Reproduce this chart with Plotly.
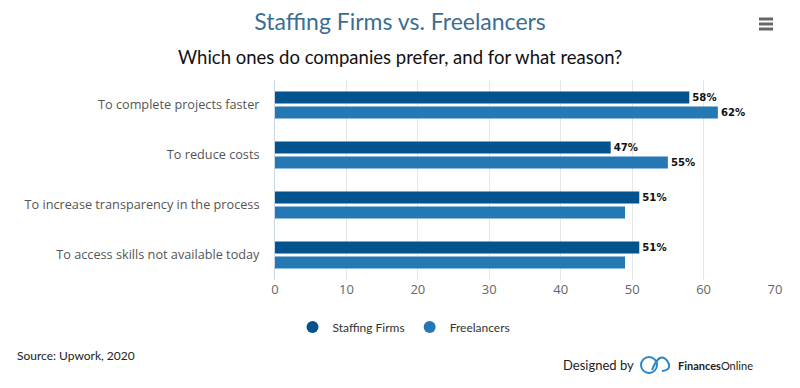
import plotly.graph_objects as go

categories = ["To complete projects faster", "To reduce costs",
              "To increase transparency in the process", "To access skills not available today"]
staffing = [58, 47, 51, 51]
freelancers = [62, 55, 49, 49]
staffing_labels = ["58%", "47%", "51%", "51%"]
freelancer_labels = ["62%", "55%", "", ""]
tick_vals = [0, 10, 20, 30, 40, 50, 60, 70]
series_names = ["Staffing Firms", "Freelancers"]
series_colors = ["#02538e", "#2479b5"]

W, H = 800, 388
L, R, T, B = 275, 25, 80, 108
PW, PH = W - L - R, H - T - B

def px(x):
    return (x - L) / PW

def py(y):
    return (H - B - y) / PH

fig = go.Figure()
for vals, labels, name, color in [(staffing, staffing_labels, series_names[0], series_colors[0]),
                                  (freelancers, freelancer_labels, series_names[1], series_colors[1])]:
    fig.add_trace(go.Bar(
        y=categories, x=vals, orientation="h", name=name, showlegend=False,
        marker=dict(color=color, line=dict(width=0)),
        text=labels, textposition="outside", cliponaxis=False,
        textfont=dict(family="DejaVu Sans", size=11, color="#111111", weight=600),
        hoverinfo="x+y+name",
    ))
# legend entries with circle symbols
for name, color in zip(series_names, series_colors):
    fig.add_trace(go.Scatter(
        x=[None], y=[None], mode="markers", name=name,
        marker=dict(symbol="circle", size=11, color=color),
        showlegend=True,
    ))

fig.update_layout(
    width=W, height=H,
    margin=dict(l=L, r=R, t=T, b=B),
    paper_bgcolor="white", plot_bgcolor="white",
    barmode="group", bargap=0.4, bargroupgap=0.2,
    title=dict(text="Staffing Firms vs. Freelancers", x=0.5, xanchor="center",
               y=1 - 22 / H, yanchor="middle", yref="container",
               font=dict(family="Lato", size=23, color="#3b6e93")),
    xaxis=dict(range=[0, 70], tickvals=tick_vals, showgrid=True, gridcolor="#e6e6e6",
               gridwidth=1, zeroline=False, showline=False, ticks="",
               tickfont=dict(family="Open Sans", size=13, color="#666666")),
    yaxis=dict(autorange="reversed", showgrid=False, zeroline=False, showline=True,
               linecolor="#ccd6eb", linewidth=1, ticks="", ticklabelstandoff=12,
               tickfont=dict(family="Open Sans", size=12.7, color="#555555")),
    legend=dict(orientation="h", x=px(404), xanchor="center", y=py(327), yanchor="middle",
                font=dict(family="Lato", size=12, color="#333333"),
                itemsizing="constant", traceorder="normal"),
    showlegend=True,
    font=dict(family="Lato"),
)

annotations = [
    dict(text="Which ones do companies prefer, and for what reason?", x=px(400),
         xref="paper", y=py(57), yref="paper", showarrow=False, xanchor="center", yanchor="middle",
         font=dict(family="Lato", size=18.5, color="#111111")),
    dict(text="Source: Upwork, 2020", x=px(15), y=py(355), xref="paper", yref="paper",
         showarrow=False, xanchor="left", yanchor="middle",
         font=dict(family="Lato", size=12, color="#222222")),
    dict(text="Designed by", x=px(636), y=py(365), xref="paper", yref="paper",
         showarrow=False, xanchor="right", yanchor="middle",
         font=dict(family="Lato", size=13, color="#222222")),
    dict(text="<b>Finances</b>Online", x=px(676), y=py(365), xref="paper", yref="paper",
         showarrow=False, xanchor="left", yanchor="middle",
         font=dict(family="Lato", size=11, color="#222222")),
]
fig.update_layout(annotations=annotations)

shapes = []
# logo approximations
shapes.append(dict(type="circle", xref="paper", yref="paper",
                   x0=px(641), x1=px(657), y0=py(373), y1=py(357),
                   line=dict(color="#2a86c7", width=2)))
shapes.append(dict(type="path", xref="paper", yref="paper",
                   path=f"M {px(652)},{py(370)} Q {px(660)},{py(350)} {px(668)},{py(362)} Q {px(672)},{py(370)} {px(662)},{py(371)}",
                   line=dict(color="#2a86c7", width=2)))
# hamburger menu
for yy in (19, 24, 29):
    shapes.append(dict(type="line", xref="paper", yref="paper",
                       x0=px(759), x1=px(773), y0=py(yy), y1=py(yy),
                       line=dict(color="#666666", width=3)))
fig.update_layout(shapes=shapes)

fig.write_html("out.html", config={"displayModeBar": False},
               post_script="document.body.style.margin='0';document.body.style.overflow='hidden';")
